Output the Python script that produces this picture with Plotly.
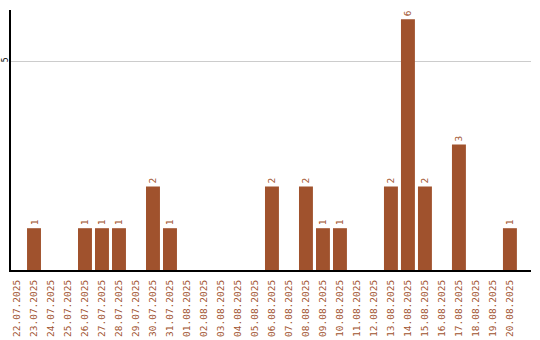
import plotly.graph_objects as go

dates = ["22.07.2025","23.07.2025","24.07.2025","25.07.2025","26.07.2025","27.07.2025",
         "28.07.2025","29.07.2025","30.07.2025","31.07.2025","01.08.2025","02.08.2025",
         "03.08.2025","04.08.2025","05.08.2025","06.08.2025","07.08.2025","08.08.2025",
         "09.08.2025","10.08.2025","11.08.2025","12.08.2025","13.08.2025","14.08.2025",
         "15.08.2025","16.08.2025","17.08.2025","18.08.2025","19.08.2025","20.08.2025"]
counts = [0,1,0,0,1,1,1,0,2,1,0,0,0,0,0,2,0,2,1,1,0,0,2,6,2,0,3,0,0,1]
y_ticks = [5]

color = "#A0522D"
labels = [str(c) if c > 0 else "" for c in counts]

fig = go.Figure(go.Bar(
    x=dates, y=counts, marker_color=color, marker_line_width=0,
    text=labels, textposition="outside", textangle=-90,
    textfont=dict(color=color, size=9.5, family="DejaVu Sans Mono"),
    cliponaxis=False, width=0.82,
))
fig.update_layout(
    width=540, height=340, margin=dict(l=11, r=9, t=10, b=70),
    plot_bgcolor="white", paper_bgcolor="white", showlegend=False,
    font=dict(family="DejaVu Sans Mono", size=10, color=color),
)
fig.update_xaxes(type="category", range=[-0.353, 30.24], tickangle=-90,
                 showline=True, linecolor="black", linewidth=2, ticks="",
                 showgrid=False, tickfont=dict(color=color, size=9.5),
                 automargin=False, ticklabelstandoff=4)
fig.update_yaxes(range=[0, 6.22], tickvals=y_ticks, tickangle=-90,
                 showline=True, linecolor="black", linewidth=2, ticks="",
                 showgrid=True, gridcolor="#cccccc", zeroline=False,
                 tickfont=dict(color="black", size=8, family="DejaVu Sans Mono"),
                 ticklabelstandoff=-2, automargin=False)
fig.write_html("out.html")
